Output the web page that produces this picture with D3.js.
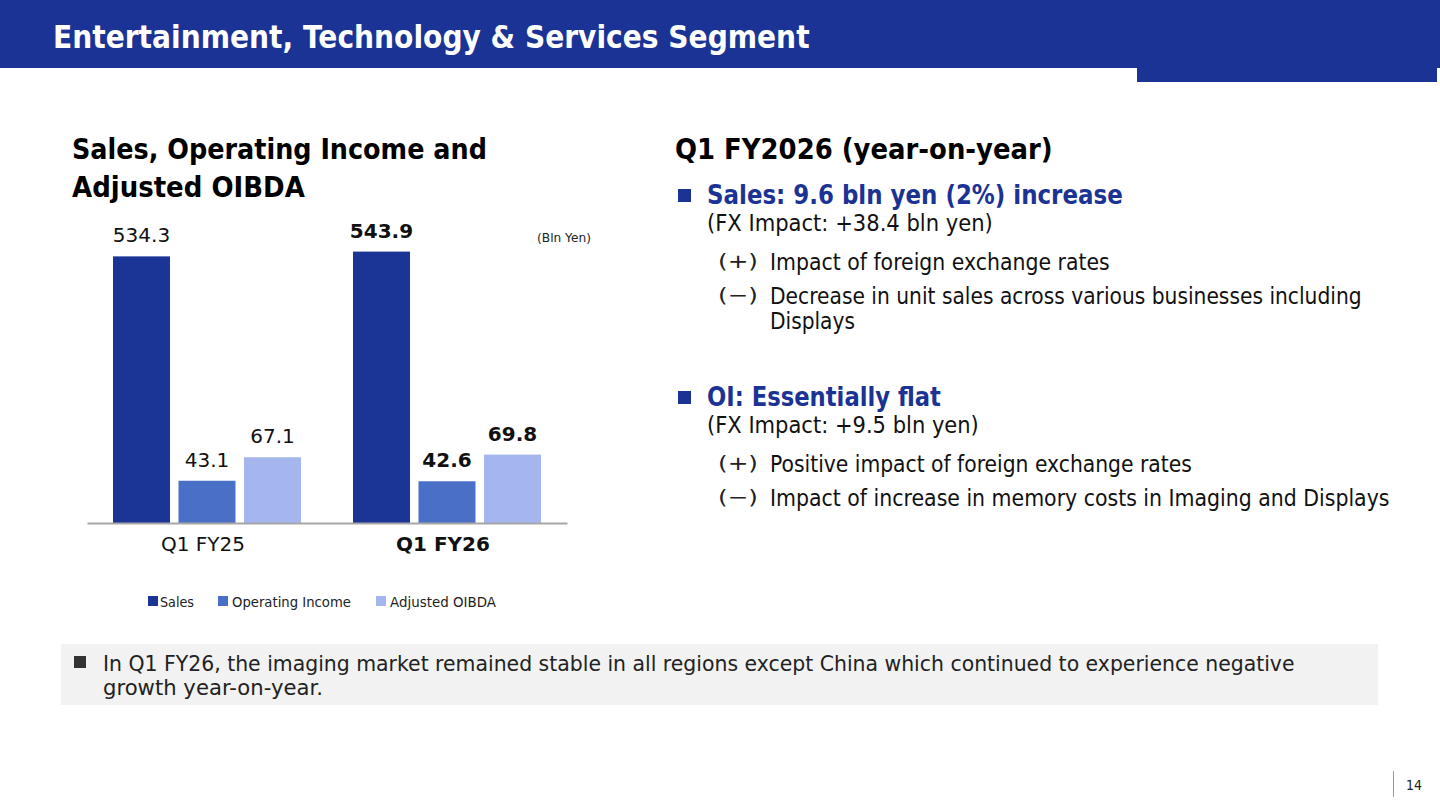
<!DOCTYPE html>
<html>
<head>
<meta charset="utf-8">
<script src="https://cdn.jsdelivr.net/npm/d3@7"></script>
<style>
  body { margin: 0; background: #fff; }
  svg { display: block; font-family: "DejaVu Sans", Verdana, sans-serif; }
  .axis .domain { stroke: #a6a6a6; stroke-width: 2; }
</style>
</head>
<body>
<div class="slide"></div>
<script>
// chart data
const categories = ['Q1 FY25', 'Q1 FY26']
const seriesNames = ['Sales', 'Operating Income', 'Adjusted OIBDA']
const sales = [534.3, 543.9]
const operatingIncome = [43.1, 42.6]
const adjustedOibda = [67.1, 69.8]
const unitLabel = '(Bln Yen)'

// slide texts
const headerTitle = 'Entertainment, Technology & Services Segment'
const chartTitle = ['Sales, Operating Income and', 'Adjusted OIBDA']
const summaryTitle = 'Q1 FY2026 (year-on-year)'
const salesHead = ['Sales: 9.6 bln yen (2%) increase', '(FX Impact: +38.4 bln yen)']
const salesPoints = [
  ['(+)', ['Impact of foreign exchange rates']],
  ['(−)', ['Decrease in unit sales across various businesses including', 'Displays']]
]
const oiHead = ['OI: Essentially flat', '(FX Impact: +9.5 bln yen)']
const oiPoints = [
  ['(+)', ['Positive impact of foreign exchange rates']],
  ['(−)', ['Impact of increase in memory costs in Imaging and Displays']]
]
const footNote = ['In Q1 FY26, the imaging market remained stable in all regions except China which continued to experience negative', 'growth year-on-year.']
const pageNumber = '14'

const W = 1440, H = 809
const blue = '#1a3394'
const colors = d3.scaleOrdinal().domain(seriesNames).range(['#1b3596', '#4a6fc7', '#a5b6ee'])

const svg = d3.select('.slide').append('svg')
  .attr('width', W)
  .attr('height', H)

// helper: text squeezed horizontally to the width measured on the slide
const txt = function(g, s, x, y, size, w, opts = {}) {
  const t = g.append('text')
    .attr('font-size', size)
    .attr('font-weight', opts.bold ? 'bold' : 'normal')
    .attr('fill', opts.fill || '#000')
    .attr('text-anchor', opts.anchor || 'start')
    .text(s)
  const k = w ? w / t.node().getComputedTextLength() : 1
  t.attr('transform', `translate(${x},${y}) scale(${k},1)`)
  return t
}

// header band
svg.append('rect').attr('x', 0).attr('y', 0).attr('width', W).attr('height', 68).attr('fill', blue)
svg.append('rect').attr('x', 1137).attr('y', 60).attr('width', 300).attr('height', 22).attr('fill', blue)
txt(svg, headerTitle, 53, 48, 32, 757, { bold: true, fill: '#fff' })

// chart title
txt(svg, chartTitle[0], 72, 159, 28, 415, { bold: true })
txt(svg, chartTitle[1], 72, 197, 28, 233, { bold: true })

// ---- bar chart ----
const baseY = 523
const x0 = d3.scaleBand().domain(categories).range([87, 567])
const x1 = d3.scaleBand().domain(seriesNames).range([26, 214]).paddingInner(0.13)

// sales and income bars use separate scales (broken axis in the original)
const ySales = d3.scaleLinear().domain([0, 600]).range([baseY, baseY - 600 * 0.499])
const yIncome = d3.scaleLinear().domain([0, 100]).range([baseY, baseY - 100 * 0.98])

const rows = categories.map((c, i) => ({
  cat: c,
  latest: i === categories.length - 1,
  values: [
    { key: seriesNames[0], v: sales[i], y: ySales },
    { key: seriesNames[1], v: operatingIncome[i], y: yIncome },
    { key: seriesNames[2], v: adjustedOibda[i], y: yIncome }
  ]
}))

const chart = svg.append('g')

const groups = chart.selectAll('.group')
  .data(rows)
  .join('g')
  .attr('class', 'group')
  .attr('transform', d => `translate(${x0(d.cat)},0)`)

groups.selectAll('rect')
  .data(d => d.values)
  .join('rect')
  .attr('x', d => x1(d.key))
  .attr('width', x1.bandwidth())
  .attr('y', d => d.y(d.v))
  .attr('height', d => baseY - d.y(d.v))
  .attr('fill', d => colors(d.key))

groups.each(function(row) {
  d3.select(this).selectAll('.val')
    .data(row.values)
    .join('text')
    .attr('class', 'val')
    .attr('x', d => x1(d.key) + x1.bandwidth() / 2)
    .attr('y', d => d.y(d.v) - 14)
    .attr('text-anchor', 'middle')
    .attr('font-size', 20)
    .attr('font-weight', row.latest ? 'bold' : 'normal')
    .attr('fill', '#111')
    .text(d => d3.format('.1f')(d.v))
})

// baseline (ticks removed, category labels drawn below)
chart.append('g')
  .attr('class', 'axis')
  .attr('transform', `translate(0,${baseY})`)
  .call(d3.axisBottom(x0).tickSize(0).tickSizeOuter(0))
  .call(g => g.selectAll('.tick').remove())

// category labels
chart.selectAll('.cat')
  .data(rows)
  .join('text')
  .attr('class', 'cat')
  .attr('x', d => x0(d.cat) + x0.bandwidth() / 2 - 4)
  .attr('y', 551)
  .attr('text-anchor', 'middle')
  .attr('font-size', 20)
  .attr('font-weight', d => d.latest ? 'bold' : 'normal')
  .attr('fill', '#111')
  .text(d => d.cat)

txt(chart, unitLabel, 537, 242, 12, 54, { fill: '#222' })

// legend
const legendX = [148, 218, 376]
const legendW = [34, 119, 106]
seriesNames.forEach((name, i) => {
  chart.append('rect')
    .attr('x', legendX[i]).attr('y', 596)
    .attr('width', 10).attr('height', 10)
    .attr('fill', colors(name))
  txt(chart, name, legendX[i] + (i === 0 ? 12 : 14), 607, 14, legendW[i], { fill: '#222' })
})

// ---- right summary ----
const right = svg.append('g')
txt(right, summaryTitle, 675, 159, 28, 378, { bold: true })

const drawBlock = function(head, points, top, widths) {
  right.append('rect').attr('x', 678).attr('y', top - 15).attr('width', 13).attr('height', 13).attr('fill', blue)
  txt(right, head[0], 707, top, 27, widths.head, { bold: true, fill: blue })
  txt(right, head[1], 707, top + 27, 23, widths.fx, { fill: '#111' })
  let y = top + 66
  points.forEach((p, i) => {
    txt(right, p[0], 718, y - 2, 20, 40, { fill: '#222' })
    p[1].forEach((line, j) => {
      txt(right, line, 770, y, 23, widths.lines[i][j], { fill: '#111' })
      y += 25
    })
    y += 9
  })
}

drawBlock(salesHead, salesPoints, 204, { head: 416, fx: 286, lines: [[340], [592, 85]] })
drawBlock(oiHead, oiPoints, 406, { head: 234, fx: 272, lines: [[422], [620]] })

// ---- footnote box ----
svg.append('rect').attr('x', 61).attr('y', 644).attr('width', 1317).attr('height', 61).attr('fill', '#f2f2f2')
svg.append('rect').attr('x', 74).attr('y', 656).attr('width', 12).attr('height', 12).attr('fill', '#333')
txt(svg, footNote[0], 103, 671, 21, 1192, { fill: '#222' })
txt(svg, footNote[1], 103, 695, 21, 220, { fill: '#222' })

// page number
svg.append('line').attr('x1', 1393.5).attr('x2', 1393.5).attr('y1', 771).attr('y2', 797).attr('stroke', '#999')
txt(svg, pageNumber, 1406, 790, 14, 16, { fill: '#222' })
</script>
</body>
</html>
